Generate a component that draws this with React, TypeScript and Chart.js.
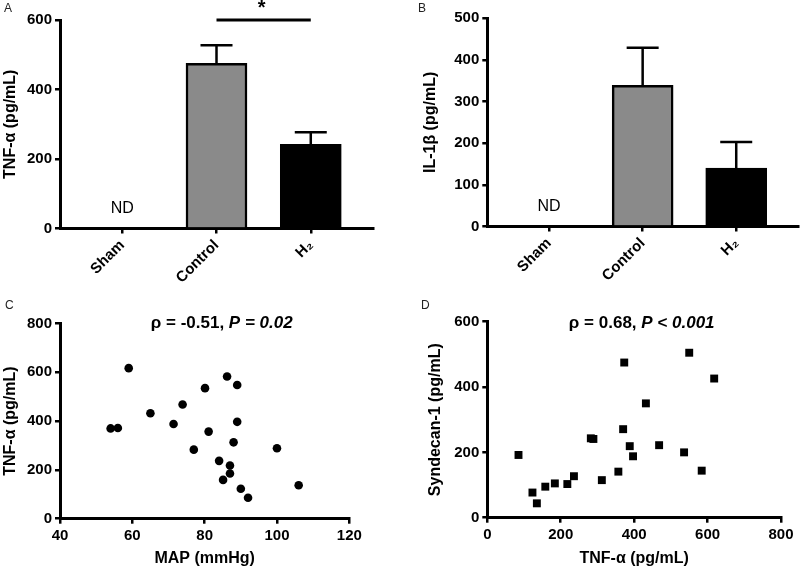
import React, { useEffect, useRef } from "react";
import { Chart, registerables } from "chart.js";

Chart.register(...registerables);

const FONT = "'Liberation Sans', Arial, Helvetica, sans-serif";
Chart.defaults.font.family = FONT;
Chart.defaults.color = "#000";

// ---- Data ----
const groups = ["Sham", "Control", "H₂"];
const tnfMeans = [null, 475, 242];
const tnfErrors = [null, 52, 35];
const il1bMeans = [null, 339, 140];
const il1bErrors = [null, 90, 63];
const barColors = ["#ffffff", "#8a8a8a", "#000000"];

const tnfTicks = [0, 200, 400, 600];
const il1bTicks = [0, 100, 200, 300, 400, 500];

const mapValues = [54, 56, 59, 65, 71.4, 73.9, 77, 80.1, 81.1, 84, 85.1, 86.2, 87, 87, 88, 89, 89, 90, 92, 100, 106];
const tnfByMap = [370, 372, 617, 432, 388, 468, 283, 535, 357, 237, 159, 583, 218, 185, 313, 548, 397, 123, 86, 289, 137];

const tnfValues = [85, 123, 135, 158, 184, 218, 236, 282, 289, 312, 357, 370, 373, 388, 397, 432, 468, 536, 550, 584, 618];
const syndecanValues = [192, 77, 44, 95, 105, 103, 127, 243, 241, 115, 141, 271, 475, 219, 188, 350, 222, 200, 505, 144, 426];

const corrC = [
  { text: "ρ = -0.51, ", italic: false },
  { text: "P = 0.02", italic: true },
];
const corrD = [
  { text: "ρ = 0.68, ", italic: false },
  { text: "P < 0.001", italic: true },
];

// ---- Styles ----
const tickFont = { family: FONT, size: 15, weight: "bold" as const };
const titleFont = { family: FONT, size: 16, weight: "bold" as const };

function gridOpts() {
  return {
    display: true,
    drawOnChartArea: false,
    drawTicks: true,
    tickLength: 5,
    lineWidth: 2.5,
    color: "#000",
    offset: false,
  };
}
function borderOpts() {
  return { display: true, width: 3, color: "#000" };
}

function yAxis(min: number, max: number, step: number, title: string, width: number) {
  return {
    type: "linear",
    min,
    max,
    ticks: { stepSize: step, font: tickFont, color: "#000", padding: 3 },
    grid: gridOpts(),
    border: borderOpts(),
    title: { display: true, text: title, font: titleFont, color: "#000", padding: { top: 1, bottom: 0 } },
    afterFit: (s: any) => {
      s.width = width;
    },
  };
}

const errorBarPlugin = (means: (number | null)[], errors: (number | null)[]) => ({
  id: "errbars",
  afterDatasetsDraw(chart: any) {
    const { ctx, scales } = chart;
    const x = scales.x;
    const y = scales.y;
    ctx.save();
    ctx.strokeStyle = "#000";
    ctx.lineWidth = 2.5;
    means.forEach((m, i) => {
      const e = errors[i];
      if (m == null || e == null) return;
      const px = x.getPixelForValue(i);
      const y0 = y.getPixelForValue(m);
      const y1 = y.getPixelForValue(m + e);
      ctx.beginPath();
      ctx.moveTo(px, y0);
      ctx.lineTo(px, y1);
      ctx.moveTo(px - 16, y1);
      ctx.lineTo(px + 16, y1);
      ctx.stroke();
    });
    ctx.restore();
  },
});

const ndPlugin = {
  id: "nd",
  afterDatasetsDraw(chart: any) {
    const { ctx, scales } = chart;
    ctx.save();
    ctx.font = `16px ${FONT}`;
    ctx.fillStyle = "#000";
    ctx.textAlign = "center";
    ctx.textBaseline = "middle";
    ctx.fillText("ND", scales.x.getPixelForValue(0), scales.y.bottom - 20);
    ctx.restore();
  },
};

const sigPlugin = {
  id: "sig",
  afterDraw(chart: any) {
    const { ctx, scales } = chart;
    const x = scales.x;
    const y = scales.y;
    const yy = y.getPixelForValue(600);
    ctx.save();
    ctx.strokeStyle = "#000";
    ctx.lineWidth = 3;
    ctx.beginPath();
    ctx.moveTo(x.getPixelForValue(1), yy);
    ctx.lineTo(x.getPixelForValue(2), yy);
    ctx.stroke();
    ctx.font = `bold 20px ${FONT}`;
    ctx.fillStyle = "#000";
    ctx.textAlign = "center";
    ctx.textBaseline = "alphabetic";
    ctx.fillText("*", x.getPixelForValue(1.5) - 2, yy - 6);
    ctx.restore();
  },
};

const corrTitlePlugin = (parts: { text: string; italic: boolean }[], cx: number, cy: number) => ({
  id: "corrTitle",
  afterDraw(chart: any) {
    const ctx = chart.ctx;
    ctx.save();
    ctx.textBaseline = "middle";
    ctx.textAlign = "left";
    ctx.fillStyle = "#000";
    const fonts = parts.map((p) => `${p.italic ? "italic " : ""}bold 17px ${FONT}`);
    let total = 0;
    const widths = parts.map((p, i) => {
      ctx.font = fonts[i];
      const w = ctx.measureText(p.text).width;
      total += w;
      return w;
    });
    let x = cx - total / 2;
    parts.forEach((p, i) => {
      ctx.font = fonts[i];
      ctx.fillText(p.text, x, cy);
      x += widths[i];
    });
    ctx.restore();
  },
});

function barConfig(
  means: (number | null)[],
  errors: (number | null)[],
  yTicks: number[],
  yTitle: string,
  pad: { left: number; right: number; top: number; bottom: number },
  yWidth: number,
  xHeight: number,
  extra: any[]
) {
  return {
    type: "bar",
    data: {
      datasets: [
        {
          data: means.map((m, i) => ({ x: i, y: m })),
          backgroundColor: barColors,
          borderColor: "#000",
          borderWidth: 2.5,
          barThickness: 61,
        },
      ],
    },
    options: {
      animation: false,
      responsive: false,
      maintainAspectRatio: false,
      layout: { padding: pad },
      plugins: { legend: { display: false }, tooltip: { enabled: false } },
      scales: {
        x: {
          type: "linear",
          min: -0.66,
          max: 2.66,
          offset: false,
          afterBuildTicks: (s: any) => {
            s.ticks = groups.map((_, i) => ({ value: i }));
          },
          ticks: {
            font: tickFont,
            color: "#000",
            minRotation: 45,
            maxRotation: 45,
            autoSkip: false,
            padding: 3,
            callback: (v: number) => groups[v] ?? "",
          },
          grid: gridOpts(),
          border: borderOpts(),
          afterFit: (s: any) => {
            s.height = xHeight;
          },
        },
        y: yAxis(yTicks[0], yTicks[yTicks.length - 1], yTicks[1] - yTicks[0], yTitle, yWidth),
      },
    },
    plugins: [errorBarPlugin(means, errors), ndPlugin, ...extra],
  };
}

function scatterConfig(
  xs: number[],
  ys: number[],
  xRange: [number, number, number],
  yRange: [number, number, number],
  xTitle: string,
  yTitle: string,
  pad: { left: number; right: number; top: number; bottom: number },
  yWidth: number,
  xHeight: number,
  pointStyle: string,
  radius: number,
  extra: any[]
) {
  return {
    type: "scatter",
    data: {
      datasets: [
        {
          data: xs.map((x, i) => ({ x, y: ys[i] })),
          pointStyle,
          pointRadius: radius,
          backgroundColor: "#000",
          borderColor: "#000",
          borderWidth: 0,
        },
      ],
    },
    options: {
      animation: false,
      responsive: false,
      maintainAspectRatio: false,
      layout: { padding: pad },
      clip: false,
      plugins: { legend: { display: false }, tooltip: { enabled: false } },
      scales: {
        x: {
          type: "linear",
          min: xRange[0],
          max: xRange[1],
          ticks: { stepSize: xRange[2], font: tickFont, color: "#000", padding: 3 },
          grid: gridOpts(),
          border: borderOpts(),
          title: { display: true, text: xTitle, font: titleFont, color: "#000", padding: { top: 0, bottom: 3 } },
          afterFit: (s: any) => {
            s.height = xHeight;
          },
        },
        y: yAxis(yRange[0], yRange[1], yRange[2], yTitle, yWidth),
      },
    },
    plugins: extra,
  };
}

function ChartCanvas({ make, left, top, width, height }: any) {
  const ref = useRef<HTMLCanvasElement | null>(null);
  useEffect(() => {
    const chart = new Chart(ref.current as HTMLCanvasElement, make());
    return () => chart.destroy();
  }, []);
  return (
    <canvas
      ref={ref}
      width={width}
      height={height}
      style={{ position: "absolute", left, top, width, height, display: "block" }}
    />
  );
}

const letterStyle: React.CSSProperties = {
  position: "absolute",
  fontFamily: FONT,
  fontSize: 12,
  lineHeight: "12px",
  color: "#222",
};

export default function App() {
  return (
    <div style={{ position: "absolute", left: 0, top: 0, width: 800, height: 571, background: "#fff", overflow: "hidden" }}>
      <ChartCanvas
        left={0}
        top={0}
        width={400}
        height={290}
        make={() =>
          barConfig(tnfMeans, tnfErrors, tnfTicks, "TNF-α (pg/mL)", { left: 0, right: 27, top: 20, bottom: 0 }, 60, 61.5, [sigPlugin])
        }
      />
      <ChartCanvas
        left={400}
        top={0}
        width={400}
        height={290}
        make={() =>
          barConfig(il1bMeans, il1bErrors, il1bTicks, "IL-1β (pg/mL)", { left: 20, right: 2, top: 18.3, bottom: 0 }, 67.3, 63.5, [])
        }
      />
      <ChartCanvas
        left={0}
        top={290}
        width={400}
        height={281}
        make={() =>
          scatterConfig(
            mapValues,
            tnfByMap,
            [40, 120, 20],
            [0, 800, 200],
            "MAP (mmHg)",
            "TNF-α (pg/mL)",
            { left: 0, right: 50.7, top: 33.5, bottom: 0 },
            60,
            52.3,
            "circle",
            4.3,
            [corrTitlePlugin(corrC, 221.7, 33)]
          )
        }
      />
      <ChartCanvas
        left={400}
        top={290}
        width={400}
        height={281}
        make={() =>
          scatterConfig(
            tnfValues,
            syndecanValues,
            [0, 800, 200],
            [0, 600, 200],
            "TNF-α (pg/mL)",
            "Syndecan-1 (pg/mL)",
            { left: 25.4, right: 19, top: 31.7, bottom: 0 },
            61.9,
            53.3,
            "rect",
            5.6,
            [corrTitlePlugin(corrD, 241.7, 33.3)]
          )
        }
      />
      <div style={{ ...letterStyle, left: 4, top: 1.5 }}>A</div>
      <div style={{ ...letterStyle, left: 418, top: 1.5 }}>B</div>
      <div style={{ ...letterStyle, left: 5, top: 299 }}>C</div>
      <div style={{ ...letterStyle, left: 421, top: 299 }}>D</div>
    </div>
  );
}
